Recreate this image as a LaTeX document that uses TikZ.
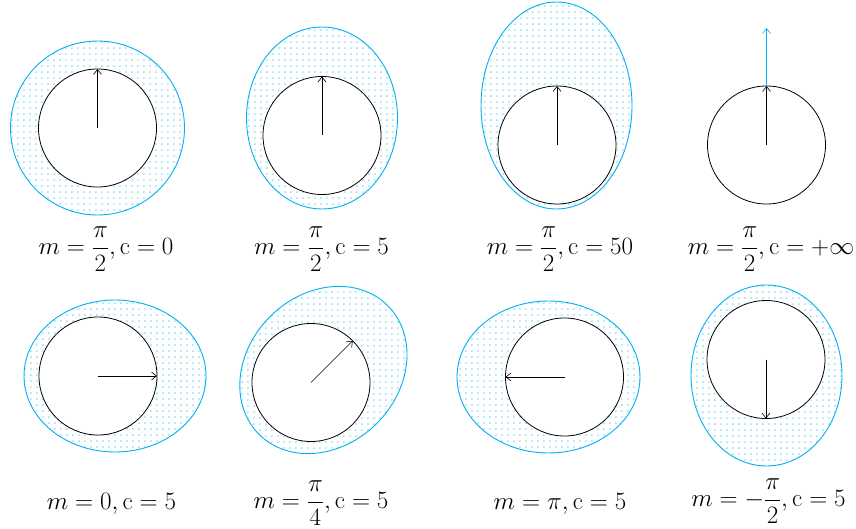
\RequirePackage{fix-cm}
\documentclass[tikz,border=0pt]{standalone}
\usetikzlibrary{shapes.geometric,patterns.meta,arrows.meta}
\definecolor{skyb}{RGB}{0,176,240}
\tikzset{
  outerb/.style={draw=skyb, line width=0.9pt, inner sep=0pt, outer sep=0pt,
    pattern={Dots[distance=6.4pt,radius=0.7pt]}, pattern color=skyb},
  innerc/.style={circle, draw=black, line width=0.8pt, fill=white, minimum size=118pt, inner sep=0pt, outer sep=0pt},
  vec/.style={draw=black, line width=0.6pt, -{Straight Barb[length=5pt,width=8pt]}},
  bvec/.style={draw=skyb, line width=0.6pt, -{Straight Barb[length=5pt,width=8pt]}},
  lab/.style={font=\fontsize{25}{30}\selectfont, inner sep=0pt}
}
\begin{document}
\begin{tikzpicture}[x=1pt,y=-1pt]
\useasboundingbox (0,0) rectangle (856,529);
% outer shapes
\node[outerb, circle, minimum size=174pt] (o1) at (97.5,128) {};
\node[outerb, ellipse, minimum width=151pt, minimum height=182pt] (o2) at (322,118) {};
\node[outerb, ellipse, minimum width=151pt, minimum height=207pt] (o3) at (556.5,105.5) {};
\node[outerb, ellipse, minimum width=182pt, minimum height=152pt] (o5) at (115,376) {};
\node[outerb, ellipse, minimum width=182pt, minimum height=151pt, rotate=45] (o6) at (323.4,370) {};
\node[outerb, ellipse, minimum width=183pt, minimum height=152pt] (o7) at (548.5,377) {};
\node[outerb, ellipse, minimum width=151pt, minimum height=181pt] (o8) at (766.5,375.5) {};
% inner circles
\node[innerc] (c1) at (97.5,128) {};
\node[innerc] (c2) at (322,135.5) {};
\node[innerc] (c3) at (557,145) {};
\node[innerc] (c4) at (766.5,145) {};
\node[innerc] (c5) at (98,376) {};
\node[innerc] (c6) at (311,382.5) {};
\node[innerc] (c7) at (564.5,377) {};
\node[innerc] (c8) at (766,359.5) {};
% arrows
\draw[vec] (c1.center) -- (c1.north);
\draw[vec] (c2.center) -- (c2.north);
\draw[vec] (c3.center) -- (c3.north);
\draw[vec] (c4.center) -- (c4.north);
\coordinate (t4) at (766.5,28);
\draw[bvec] (c4.north) -- (t4);
\draw[vec] (c5.center) -- (c5.east);
\draw[vec] (c6.center) -- (c6.45);
\draw[vec] (c7.center) -- (c7.west);
\draw[vec] (c8.center) -- (c8.south);
% labels
\node[lab] (l1) at (106,249) {$\displaystyle m=\frac{\pi}{2},\mathrm{c}=0$};
\node[lab] (l2) at (321.5,249) {$\displaystyle m=\frac{\pi}{2},\mathrm{c}=5$};
\node[lab] (l3) at (560,249) {$\displaystyle m=\frac{\pi}{2},\mathrm{c}=50$};
\node[lab] (l4) at (771,249) {$\displaystyle m=\frac{\pi}{2},\mathrm{c}=+\infty$};
\node[lab] (l5) at (111.5,503.5) {$m=0,\mathrm{c}=5$};
\node[lab] (l6) at (321,503) {$\displaystyle m=\frac{\pi}{4},\mathrm{c}=5$};
\node[lab] (l7) at (560,503.5) {$m=\pi,\mathrm{c}=5$};
\node[lab] (l8) at (768.5,501) {$\displaystyle m=-\frac{\pi}{2},\mathrm{c}=5$};
\end{tikzpicture}
\end{document}
